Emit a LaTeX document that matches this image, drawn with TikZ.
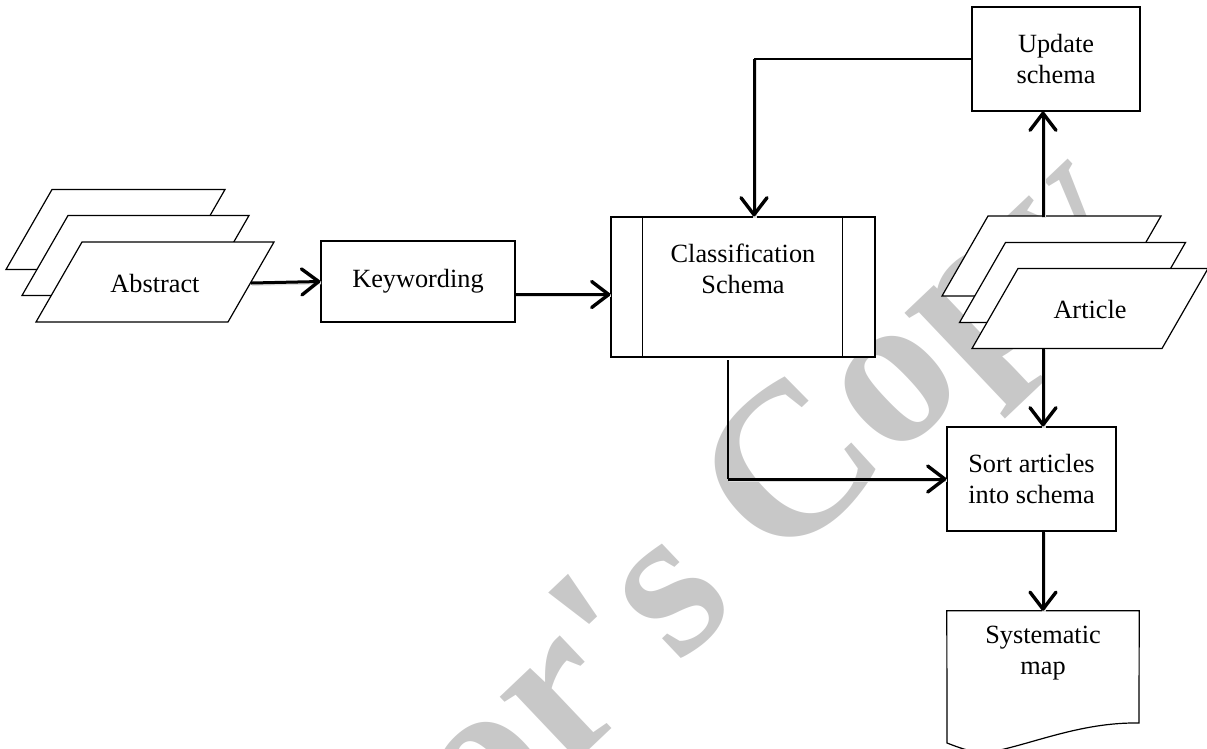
\documentclass[tikz,border=0pt]{standalone}
\usepackage{fontspec}
\setmainfont{Liberation Serif}
\usetikzlibrary{arrows.meta,calc}
\definecolor{wmgray}{RGB}{200,200,200}
\newcommand\fs{\fontsize{26.3pt}{31pt}\selectfont}
\newcommand\wmfs{\fontsize{217pt}{217pt}\selectfont\bfseries}
\newcommand\para[3]{%
  \filldraw[fill=white, line width=1.2pt, line join=miter]
    (#1-#3/2-23, #2+40) -- (#1+#3/2-23, #2+40) -- (#1+#3/2+23, #2-40) -- (#1-#3/2+23, #2-40) -- cycle;}
\begin{document}
\begin{tikzpicture}[x=1pt, y=-1pt,
  box/.style={draw, line width=1.2pt, fill=white, inner sep=0pt, align=center, font=\fs},
  txt/.style={inner sep=0pt, align=center, font=\fs},
  thinl/.style={line width=1.2pt},
  arr/.style={line width=3pt, -{Straight Barb[length=17pt, width=26pt, line width=3.4pt, round]},
    preaction={draw=black!13, line width=3.4pt, -{}, transform canvas={shift={(0.8pt,-1.2pt)}}}},
  wm/.style={text=wmgray, font=\wmfs, inner sep=0pt, rotate=43.5, anchor=base west}]
\clip (0,0) rectangle (1207,748);
% watermark
\node[wm] (wmark) at (145,1172) {Author\textquotesingle s Copy};
% abstract stack
\para{115.5}{229.5}{173}
\para{135.5}{255.5}{181}
\para{155}{282}{192}
\node[txt, minimum width=192pt, minimum height=80pt] (abstract) at (155,283) {Abstract};
% keywording
\node[box, minimum width=194pt, minimum height=81pt] (keyw) at (418,281.5) {Keywording};
% classification schema
\node[box, minimum width=264pt, minimum height=140pt] (class) at (743,287) {};
\draw[thinl] ([xshift=32pt]class.north west) -- ([xshift=32pt]class.south west);
\draw[thinl] ([xshift=-33pt]class.north east) -- ([xshift=-33pt]class.south east);
\node[txt] (classtxt) at (743,269) {Classification\\Schema};
% update schema
\node[box, minimum width=168pt, minimum height=104pt] (update) at (1056,59) {Update\\schema};
% article stack
\para{1051.5}{256}{173}
\para{1072.5}{282.5}{180}
\para{1090}{308.5}{190}
\node[txt, minimum width=190pt, minimum height=80pt] (article) at (1090,309.5) {Article};
% sort
\node[box, minimum width=169pt, minimum height=104pt] (sort) at (1031.5,479) {Sort articles\\into schema};
% systematic map (document shape)
\node[inner sep=0pt, minimum width=192pt, minimum height=130pt] (map) at (1043,676) {};
\filldraw[fill=white, thinl] (map.north west) -- (map.north east) -- (1139,723)
   .. controls (1080,722) and (1030,745) .. (990,752) .. controls (975,754) and (960,748) .. (947,743) -- cycle;
\node[txt] (maptxt) at (1043,653) {Systematic\\map};
% coordinates
\coordinate (c1) at (754,59);
\coordinate (c2) at (728,360);
\coordinate (artTop) at (1043,217);
\coordinate (artBot) at (1043,348);
% connectors
\draw[arr] (abstract.east) -- (keyw.west);
\draw[arr] ([yshift=-13pt]keyw.east) -- ([yshift=-13pt]keyw.east -| class.west);
\draw[thinl] (update.west) -- (c1);
\draw[arr] (c1) -- (c1 |- class.north);
\draw[arr] (artTop) -- (artTop |- update.south);
\draw[arr] (artBot) -- (artBot |- sort.north);
\draw[thinl] (c2) -- (c2 |- sort.west);
\draw[arr] (c2 |- sort.west) -- (sort.west);
\draw[arr] (artBot |- sort.south) -- (artBot |- map.north);
\end{tikzpicture}
\end{document}
